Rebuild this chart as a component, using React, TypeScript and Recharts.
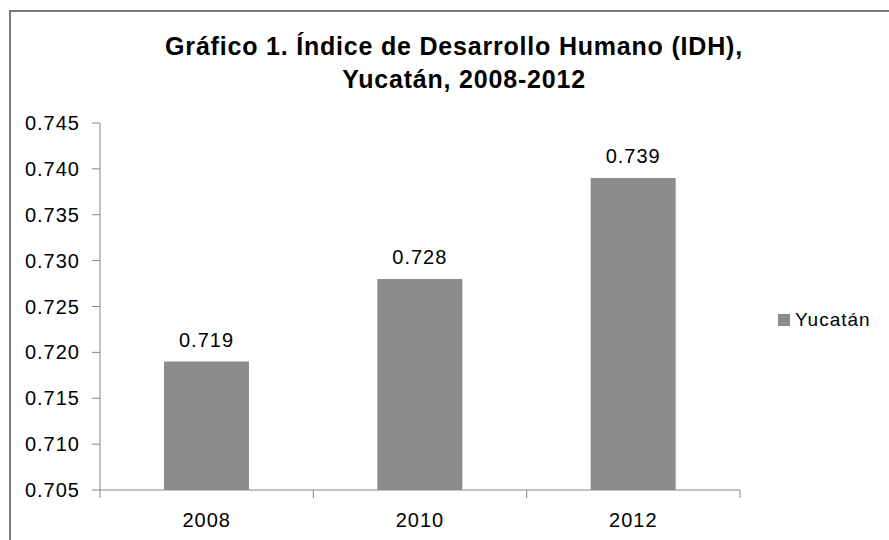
import React from 'react';
import { BarChart, Bar, XAxis, YAxis, LabelList } from 'recharts';

const years = ['2008', '2010', '2012'];
const idhValues = [0.719, 0.728, 0.739];
const yTicks = [0.705, 0.71, 0.715, 0.72, 0.725, 0.73, 0.735, 0.74, 0.745];
const seriesName = 'Yucatán';

const data = years.map((year, i) => ({ year, yucatan: idhValues[i] }));

const FONT = "'Liberation Sans', Arial, sans-serif";
const AXIS = '#868686';
const BAR = '#8c8c8c';

// year label plus the small tick marks between categories (Excel style)
function YearTick(props: any) {
  const { x, y, payload, index } = props;
  const half = payload && payload.offset ? payload.offset : 106.67;
  const axisY = y - 22;
  return (
    <g>
      <line x1={x - half} y1={axisY} x2={x - half} y2={axisY + 8} stroke={AXIS} strokeWidth={1} />
      {index === years.length - 1 && (
        <line x1={x + half} y1={axisY} x2={x + half} y2={axisY + 8} stroke={AXIS} strokeWidth={1} />
      )}
      <text x={x} y={axisY + 37} textAnchor="middle" fill="#000" fontSize={20} fontFamily={FONT} letterSpacing={1}>
        {payload.value}
      </text>
    </g>
  );
}

export default function App() {
  return (
    <div style={{ position: 'absolute', left: 0, top: 0, width: 889, height: 540, background: '#fff', overflow: 'hidden' }}>
      <div
        style={{
          position: 'absolute',
          left: 9,
          top: 10,
          width: 900,
          height: 600,
          borderLeft: '2px solid #7a7a7a',
          borderTop: '2px solid #7a7a7a',
        }}
      />
      <svg style={{ position: 'absolute', left: 0, top: 0 }} width={889} height={100}>
        <text x={454} y={55} textAnchor="middle" fontFamily={FONT} fontWeight="bold" fontSize={25} fill="#000" letterSpacing={0.8}>
          Gráfico 1. Índice de Desarrollo Humano (IDH),
        </text>
        <text x={464} y={88} textAnchor="middle" fontFamily={FONT} fontWeight="bold" fontSize={25} fill="#000" letterSpacing={0.8}>
          Yucatán, 2008-2012
        </text>
      </svg>
      <div style={{ position: 'absolute', left: 0, top: 0 }}>
        <BarChart
          width={889}
          height={540}
          data={data}
          margin={{ top: 123, right: 149, bottom: 10, left: 10 }}
          barCategoryGap="30%"
        >
          <XAxis
            dataKey="year"
            height={40}
            stroke={AXIS}
            tickLine={false}
            tickSize={0}
            tickMargin={22}
            tick={<YearTick />}
            interval={0}
          />
          <YAxis
            width={90}
            domain={[0.705, 0.745]}
            ticks={yTicks}
            allowDataOverflow
            stroke={AXIS}
            tickSize={8}
            tickMargin={12}
            tick={{ fill: '#000', fontSize: 20, fontFamily: FONT, letterSpacing: 1 }}
            tickFormatter={(v: number) => v.toFixed(3)}
          />
          <Bar dataKey="yucatan" name={seriesName} fill={BAR} isAnimationActive={false}>
            <LabelList
              dataKey="yucatan"
              position="top"
              offset={15}
              fill="#000"
              fontSize={20}
              fontFamily={FONT}
              letterSpacing={1}
              formatter={(v: number) => v.toFixed(3)}
            />
          </Bar>
        </BarChart>
      </div>
      <div
        style={{
          position: 'absolute',
          left: 778,
          top: 309,
          display: 'flex',
          alignItems: 'center',
          fontFamily: FONT,
          fontSize: 19,
          color: '#000',
        }}
      >
        <span style={{ display: 'inline-block', width: 12, height: 12, background: BAR, marginRight: 5 }} />
        <span style={{ letterSpacing: 1 }}>{seriesName}</span>
      </div>
    </div>
  );
}
